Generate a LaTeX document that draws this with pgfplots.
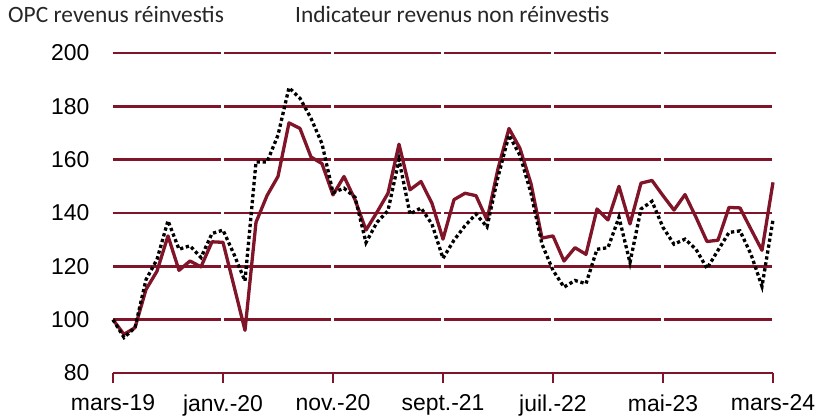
\documentclass[border=0pt]{standalone}
\usepackage{fontspec}
\setmainfont{Liberation Sans}
\newfontfamily\calibri{Carlito}
\usepackage{pgfplots}
\pgfplotsset{compat=1.18}
\definecolor{bord}{RGB}{128,20,40}
\begin{document}
\begin{tikzpicture}
\begin{axis}[
 at={(0,0)}, anchor=south west,
 scale only axis, width=660bp, height=320bp,
 xmin=0, xmax=60, ymin=80, ymax=200,
 xtick={0,10,...,60},
 xticklabels={mars-19,janv.-20,nov.-20,sept.-21,juil.-22,mai-23,mars-24},
 ytick={80,100,...,200},
 axis lines*=left,
 y axis line style={draw=none},
 x axis line style={bord, line width=2.5bp},
 ytick style={draw=none},
 xtick style={bord, line width=2bp},
 major tick length=10bp, tick align=outside,
 ticklabel style={font=\fontsize{23}{23}\selectfont, text=black},
 xticklabel style={yshift=-8bp},
 yticklabel style={xshift=-10bp},
 /pgf/number format/assume math mode=true,
 clip=false,
]
\draw[bord, line width=2.6bp] (axis cs:0,100) -- (axis cs:60,100);
\draw[bord, line width=2.6bp] (axis cs:0,120) -- (axis cs:60,120);
\draw[bord, line width=2.6bp] (axis cs:0,140) -- (axis cs:60,140);
\draw[bord, line width=2.6bp] (axis cs:0,160) -- (axis cs:60,160);
\draw[bord, line width=2.6bp] (axis cs:0,180) -- (axis cs:60,180);
\draw[bord, line width=2.6bp] (axis cs:0,200) -- (axis cs:60.3,200);
\draw[white, line width=3bp] (axis cs:10,82) -- (axis cs:10,201.5);
\draw[white, line width=3bp] (axis cs:20,82) -- (axis cs:20,201.5);
\draw[white, line width=3bp] (axis cs:30,82) -- (axis cs:30,201.5);
\draw[white, line width=3bp] (axis cs:40,82) -- (axis cs:40,201.5);
\draw[white, line width=3bp] (axis cs:50,82) -- (axis cs:50,201.5);
\draw[white, line width=2bp] (axis cs:60,82) -- (axis cs:60,198.5);
\addplot[bord, line width=3.3bp, line join=round] coordinates {
(0,100) (1,94.5) (2,97) (3,111.3) (4,118.2) (5,131.4) (6,118.5) (7,122) (8,119.8) (9,129.2)
(10,129) (11,112.6) (12,96) (13,136.5) (14,146.5) (15,153.7) (16,173.8) (17,171.7) (18,161) (19,158.5)
(20,146.8) (21,153.7) (22,145) (23,133.6) (24,140.3) (25,147.4) (26,165.8) (27,148.7) (28,151.8) (29,143.6)
(30,130.2) (31,145) (32,147.4) (33,146.5) (34,137.4) (35,156.6) (36,171.7) (37,164.2) (38,151) (39,130.6)
(40,131.4) (41,122) (42,127) (43,124.5) (44,141.5) (45,137.4) (46,150) (47,135.9) (48,151.2) (49,152.2)
(50,146.5) (51,141.1) (52,146.9) (53,138.4) (54,129.3) (55,129.8) (56,142.1) (57,141.9) (58,133.9) (59,126)
(60,151.5)};
\addplot[black, line width=3.3bp, dash pattern=on 3.3bp off 2.7bp, line cap=butt] coordinates {
(0,100) (1,93.3) (2,97) (3,115) (4,122.6) (5,137.1) (6,126.4) (7,127.7) (8,123.3) (9,132.3)
(10,133.6) (11,124.5) (12,114.5) (13,159.1) (14,159.1) (15,169.2) (16,187) (17,183) (18,175.5) (19,166)
(20,147.6) (21,149.3) (22,145.9) (23,128.9) (24,136.5) (25,140.9) (26,160) (27,139.6) (28,141.9) (29,135.8)
(30,123) (31,129.8) (32,135.2) (33,139.6) (34,134.8) (35,153.5) (36,169.2) (37,161.6) (38,147.4) (39,128.3)
(40,118.5) (41,112.2) (42,114.7) (43,113.5) (44,126.4) (45,127) (46,138.4) (47,121.4) (48,141.5) (49,144.4)
(50,134.6) (51,128.3) (52,130.2) (53,126.4) (54,119.2) (55,126) (56,132.7) (57,133.3) (58,124.5) (59,112.5)
(60,137.4)};
\end{axis}
\node[anchor=base west, inner sep=0pt, font=\calibri\fontsize{23.5}{23.5}\selectfont, text=black!85] at (-105bp,350bp) {OPC revenus réinvestis};
\node[anchor=base west, inner sep=0pt, font=\calibri\fontsize{23.5}{23.5}\selectfont, text=black!85] at (182bp,350bp) {Indicateur revenus non réinvestis};
\pgfresetboundingbox
\useasboundingbox (-113bp,-46bp) rectangle (704bp,373bp);
\end{tikzpicture}
\end{document}
